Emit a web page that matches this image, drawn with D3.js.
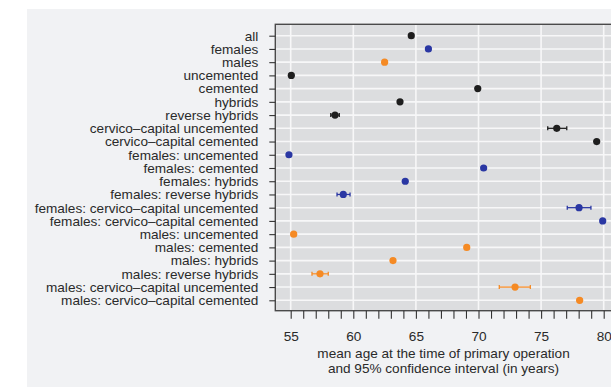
<!DOCTYPE html>
<html>
<head>
<meta charset="utf-8">
<script src="https://cdn.jsdelivr.net/npm/d3@7"></script>
<style>
  html, body { margin: 0; padding: 0; background: #ffffff; }
  svg { display: block; font-family: "Liberation Sans", Arial, Helvetica, sans-serif; }
</style>
</head>
<body>
<svg id="chart" width="611" height="387"></svg>
<script>
const categories = [
  "all", "females", "males", "uncemented", "cemented", "hybrids", "reverse hybrids",
  "cervico\u2013capital uncemented", "cervico\u2013capital cemented",
  "females: uncemented", "females: cemented", "females: hybrids", "females: reverse hybrids",
  "females: cervico\u2013capital uncemented", "females: cervico\u2013capital cemented",
  "males: uncemented", "males: cemented", "males: hybrids", "males: reverse hybrids",
  "males: cervico\u2013capital uncemented", "males: cervico\u2013capital cemented"
];
const groups = [
  "all", "females", "males", "all", "all", "all", "all", "all", "all",
  "females", "females", "females", "females", "females", "females",
  "males", "males", "males", "males", "males", "males"
];
const meanAge = [
  64.63, 66.0, 62.5, 55.05, 69.94, 63.73, 58.54, 76.25, 79.44,
  54.86, 70.41, 64.15, 59.2, 78.03, 79.92,
  55.24, 69.06, 63.17, 57.34, 72.92, 78.08
];
const ciLow = [
  64.5, 65.85, 62.35, 54.9, 69.8, 63.6, 58.2, 75.53, 79.3,
  54.7, 70.25, 64.0, 58.7, 77.09, 79.75,
  55.05, 68.9, 63.0, 56.7, 71.66, 77.9
];
const ciHigh = [
  64.76, 66.15, 62.65, 55.2, 70.08, 63.86, 58.88, 77.05, 79.58,
  55.02, 70.57, 64.3, 59.74, 78.98, 80.09,
  55.43, 69.22, 63.34, 58.0, 74.14, 78.26
];
const xTicks = [55, 60, 65, 70, 75, 80];
const xMinorTicks = d3.range(55, 81, 1);
const axisTitle = ["mean age at the time of primary operation", "and 95% confidence interval (in years)"];
const groupColors = { all: "#1e1e1e", females: "#2a37a3", males: "#f58a24" };

const svg = d3.select("#chart");
const fontSize = 13.6;

// outer background
svg.append("rect").attr("x", 27).attr("y", 9).attr("width", 611 - 27).attr("height", 387 - 9)
  .attr("fill", "#f1f2f4");

const panel = { left: 275.3, top: 24.3, right: 640, bottom: 310.7 };

const x = d3.scaleLinear().domain([55, 80]).range([290.7, 603.7]);
const y = d3.scalePoint().domain(categories).range([35.7, 300.3]);

// panel background
svg.append("rect").attr("x", panel.left).attr("y", panel.top)
  .attr("width", panel.right - panel.left).attr("height", panel.bottom - panel.top)
  .attr("fill", "#dcdddf");

// grid
const grid = svg.append("g").attr("stroke", "#f7f7f8").attr("stroke-width", 1.6);
grid.selectAll("line.v").data(xTicks).join("line")
  .attr("x1", d => x(d)).attr("x2", d => x(d))
  .attr("y1", panel.top).attr("y2", panel.bottom);
grid.selectAll("line.h").data(categories).join("line")
  .attr("x1", panel.left).attr("x2", panel.right)
  .attr("y1", d => y(d)).attr("y2", d => y(d));

// error bars
const data = categories.map((c, i) => ({ c, g: groups[i], m: meanAge[i], lo: ciLow[i], hi: ciHigh[i] }));
const eb = svg.append("g");
data.forEach(d => {
  const col = groupColors[d.g];
  const yy = y(d.c);
  eb.append("line").attr("x1", x(d.lo)).attr("x2", x(d.hi)).attr("y1", yy).attr("y2", yy)
    .attr("stroke", col).attr("stroke-width", 1.3);
  [d.lo, d.hi].forEach(v => {
    eb.append("line").attr("x1", x(v)).attr("x2", x(v)).attr("y1", yy - 2).attr("y2", yy + 2)
      .attr("stroke", col).attr("stroke-width", 1.3);
  });
});

// points
svg.append("g").selectAll("circle").data(data).join("circle")
  .attr("cx", d => x(d.m)).attr("cy", d => y(d.c)).attr("r", 3.6)
  .attr("fill", d => groupColors[d.g]);

// panel border
svg.append("rect").attr("x", panel.left).attr("y", panel.top)
  .attr("width", panel.right - panel.left).attr("height", panel.bottom - panel.top)
  .attr("fill", "none").attr("stroke", "#4a4a4a").attr("stroke-width", 1.4);

// y axis
const yAxis = svg.append("g").attr("transform", `translate(${panel.left},0)`)
  .call(d3.axisLeft(y).tickSize(6).tickPadding(11));
yAxis.select(".domain").remove();
yAxis.selectAll(".tick line").attr("stroke", "#333").attr("stroke-width", 1.1);
yAxis.selectAll(".tick text").attr("font-size", fontSize).attr("fill", "#2a2a2a")
  .attr("font-family", "Liberation Sans, Arial, sans-serif");

// x axis
const xAxis = svg.append("g").attr("transform", `translate(0,${panel.bottom})`)
  .call(d3.axisBottom(x).tickValues(xMinorTicks).tickSize(8).tickPadding(13)
    .tickFormat(d => xTicks.includes(d) ? d3.format("d")(d) : ""));
xAxis.select(".domain").remove();
xAxis.selectAll(".tick line").attr("stroke", "#333").attr("stroke-width", 1.1);
xAxis.selectAll(".tick text").attr("font-size", fontSize).attr("fill", "#2a2a2a")
  .attr("font-family", "Liberation Sans, Arial, sans-serif");

// axis title
svg.append("g").selectAll("text").data(axisTitle).join("text")
  .attr("x", 443.5).attr("y", (d, i) => 357.5 + i * 15.3)
  .attr("text-anchor", "middle").attr("font-size", fontSize).attr("fill", "#2a2a2a")
  .text(d => d);
</script>
</body>
</html>
